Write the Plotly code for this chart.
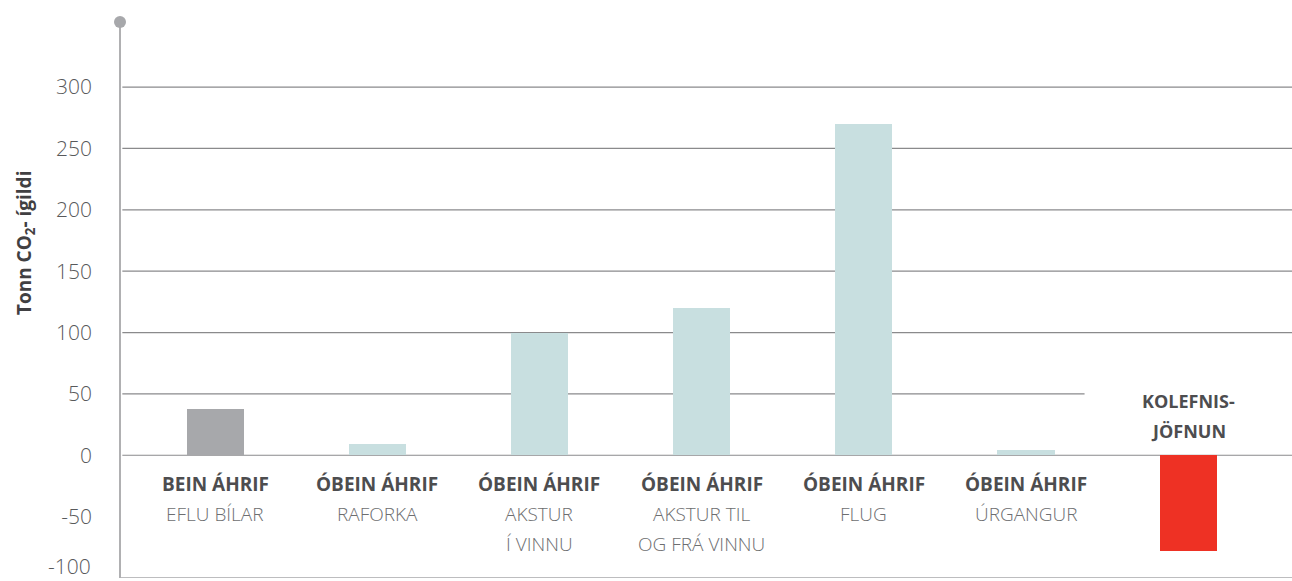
import plotly.graph_objects as go

categories_bold = ["BEIN ÁHRIF", "ÓBEIN ÁHRIF", "ÓBEIN ÁHRIF", "ÓBEIN ÁHRIF", "ÓBEIN ÁHRIF", "ÓBEIN ÁHRIF", "KOLEFNIS-|JÖFNUN"]
categories_sub = ["EFLU BÍLAR", "RAFORKA", "AKSTUR|Í VINNU", "AKSTUR TIL|OG FRÁ VINNU", "FLUG", "ÚRGANGUR", ""]
values = [37.5, 9, 100, 120, 270, 4, -78]
colors = ["#a7a8ab", "#c8dfe0", "#c8dfe0", "#c8dfe0", "#c8dfe0", "#c8dfe0", "#ee3124"]
tick_vals = [-50, 0, 50, 100, 150, 200, 250, 300]
tick_text = ["-50", "0", "50", "100", "150", "200", "250", "300"]
bottom_val, bottom_text = -100, "-100"
grid_vals = [0, 50, 100, 150, 200, 250, 300]

x = list(range(len(values)))
Y_TOP = 353
X_MIN, X_MAX = -0.586, 6.64

fig = go.Figure()
fig.add_trace(go.Bar(x=x, y=values, marker=dict(color=colors, line=dict(width=0)),
                     width=0.352, hoverinfo="skip"))
fig.add_trace(go.Scatter(x=[X_MIN], y=[Y_TOP], mode="markers",
                         marker=dict(size=12, color="#a7a8ab"), cliponaxis=False,
                         hoverinfo="skip"))

shapes = []
for gv in grid_vals:
    shapes.append(dict(type="line", xref="paper", yref="y", x0=0.002,
                       x1=(0.823 if gv == 50 else 1), y0=gv, y1=gv,
                       line=dict(color="#8a8a8c", width=1.2), layer="below"))
shapes.append(dict(type="line", xref="paper", yref="y", x0=0, x1=1, y0=bottom_val, y1=bottom_val,
                   line=dict(color="#bdbdbf", width=2), layer="below"))
shapes.append(dict(type="line", xref="paper", yref="y", x0=0, x1=0, y0=bottom_val, y1=Y_TOP,
                   line=dict(color="#b0b0b2", width=2), layer="below"))

tick_font = dict(family="Open Sans", size=21, color="#58595b", weight=300)
bold_font = dict(family="Open Sans", size=19, color="#4d4d4f", weight=700)
light_font = dict(family="Open Sans", size=19, color="#6d6e70", weight=300)

annotations = []
for i, (b, s, v) in enumerate(zip(categories_bold, categories_sub, values)):
    if v >= 0:
        annotations.append(dict(x=i, y=0, xref="x", yref="y", yanchor="middle", yshift=-29,
                                showarrow=False, text=b, font=bold_font))
        for j, line in enumerate(s.split("|")):
            annotations.append(dict(x=i, y=0, xref="x", yref="y", yanchor="middle",
                                    yshift=-59 - 30 * j, showarrow=False, text=line,
                                    font=light_font))
    else:
        lines = b.split("|")
        for j, line in enumerate(lines):
            annotations.append(dict(x=i, y=0, xref="x", yref="y", yanchor="middle",
                                    yshift=24 + 30 * (len(lines) - 1 - j), showarrow=False,
                                    text=line, font=dict(family="Open Sans", size=18,
                                                         color="#4d4d4f", weight=700)))

annotations.append(dict(x=0, y=bottom_val, xref="paper", yref="y", xanchor="right",
                        yanchor="bottom", xshift=-27, yshift=-4, showarrow=False,
                        text=bottom_text, font=tick_font))

annotations.append(dict(x=-0.081, y=0.6025, xref="paper", yref="paper", textangle=-90,
                        xanchor="center", yanchor="middle", showarrow=False,
                        text="Tonn CO<sub>2</sub>- ígildi",
                        font=dict(family="Open Sans", size=19, color="#414042", weight=700)))

fig.update_layout(
    width=1292, height=581,
    margin=dict(l=120, r=0, t=22, b=3),
    plot_bgcolor="white", paper_bgcolor="white",
    showlegend=False, bargap=0,
    shapes=shapes, annotations=annotations,
    xaxis=dict(range=[X_MIN, X_MAX], visible=False, fixedrange=True),
    yaxis=dict(range=[bottom_val, Y_TOP], tickvals=tick_vals, ticktext=tick_text,
               showgrid=False, zeroline=False, showline=False, ticks="",
               ticklabelstandoff=27, tickfont=tick_font, fixedrange=True),
)

fig.write_html("out.html", config={"displayModeBar": False},
               post_script="document.body.style.margin='0';document.body.style.overflow='hidden';")
